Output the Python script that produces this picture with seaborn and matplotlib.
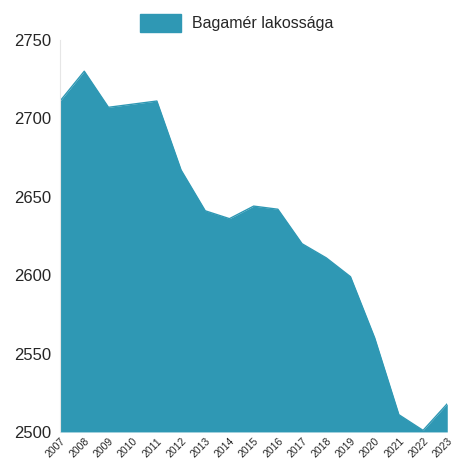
import pandas as pd
import numpy as np
import matplotlib
matplotlib.use("Agg")
import matplotlib.pyplot as plt
import seaborn as sns
from matplotlib.patches import Patch

years = [2007, 2008, 2009, 2010, 2011, 2012, 2013, 2014, 2015,
         2016, 2017, 2018, 2019, 2020, 2021, 2022, 2023]
population = [2711, 2730, 2707, 2709, 2711, 2667, 2641, 2636, 2644,
              2642, 2620, 2611, 2599, 2560, 2511, 2501, 2518]
yticks = [2500, 2550, 2600, 2650, 2700, 2750]
series_label = "Bagamér lakossága"
teal = "#2f98b4"

df = pd.DataFrame({"year": years, "pop": population})

sns.set_style("white")
plt.rcParams['font.family'] = ['Liberation Sans', 'DejaVu Sans']

fig = plt.figure(figsize=(4.55, 4.69), dpi=100)
ax = fig.add_axes([0.132, 0.079, 0.851, 0.836])

sns.lineplot(x="year", y="pop", data=df, color=teal, linewidth=1, ax=ax)
ax.fill_between(df["year"], df["pop"], 2500, color=teal, linewidth=0)

ax.set_xlim(2007, 2023)
ax.set_ylim(2500, 2750)
ax.set_yticks(yticks)
ax.set_yticklabels([str(v) for v in yticks], fontsize=12)
ax.set_xticks(years)
ax.set_xticklabels([str(y) for y in years], fontsize=7.5, rotation=45,
                   ha="right", va="top", rotation_mode="anchor")
ax.tick_params(axis="x", length=0, pad=3)
ax.tick_params(axis="y", length=0, pad=6)
ax.set_xlabel("")
ax.set_ylabel("")

for side in ["top", "right", "bottom"]:
    ax.spines[side].set_visible(False)
ax.spines["left"].set_color("#e6e6e6")
ax.spines["left"].set_linewidth(0.8)

handles = [Patch(facecolor=teal, edgecolor=teal)]
fig.legend(handles, [series_label], loc="upper center",
           bbox_to_anchor=(0.52, 1.0), frameon=False, fontsize=11.5,
           handlelength=2.6, handleheight=1.3, handletextpad=0.7)

plt.savefig("out.png", dpi=100)
plt.close()
